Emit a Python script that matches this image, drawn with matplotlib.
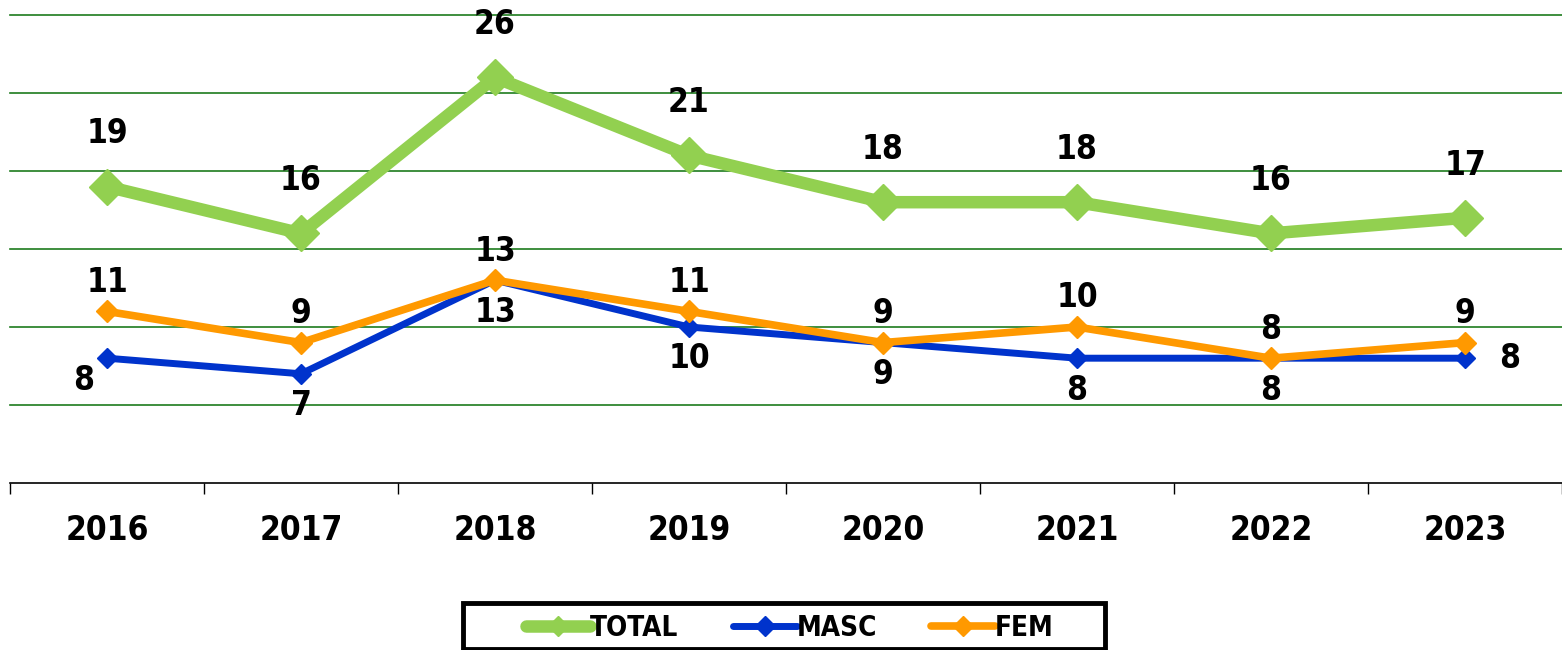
import numpy as np
import matplotlib.pyplot as plt
from matplotlib.patches import Rectangle

# data
years = ['2016', '2017', '2018', '2019', '2020', '2021', '2022', '2023']
total = [19, 16, 26, 21, 18, 18, 16, 17]
masc = [8, 7, 13, 10, 9, 8, 8, 8]
fem = [11, 9, 13, 11, 9, 10, 8, 9]

plt.rcParams['font.family'] = ['DejaVu Sans Condensed', 'DejaVu Sans']
plt.rcParams['font.weight'] = 'bold'
plt.rcParams['font.stretch'] = 'condensed'

W, H = 1562, 650
fig = plt.figure(figsize=(W / 100, H / 100), dpi=100)
ax = fig.add_axes([10/W, 167/H, 1552/W, 468/H])

x = np.arange(len(years))

ax.plot(x, total, color='#92d050', lw=9, marker='D', ms=18, mec='#92d050',
        solid_capstyle='round', label='TOTAL', zorder=3)
ax.plot(x, masc, color='#0033cc', lw=5, marker='D', ms=10, mec='#0033cc',
        solid_capstyle='round', label='MASC', zorder=4)
ax.plot(x, fem, color='#ff9900', lw=5.5, marker='D', ms=11, mec='#ff9900',
        solid_capstyle='round', label='FEM', zorder=5)

fs = 24
for i, v in enumerate(total):
    ax.annotate(str(v), (x[i], v), xytext=(0, 38), textcoords='offset points',
                ha='center', va='center', fontsize=fs, fontweight='bold')
for i, v in enumerate(fem):
    ax.annotate(str(v), (x[i], v), xytext=(0, 21), textcoords='offset points',
                ha='center', va='center', fontsize=fs, fontweight='bold')
for i, v in enumerate(masc):
    if i == 0:
        off = (-17, -16)
    elif i == len(masc) - 1:
        off = (32, 0)
    else:
        off = (0, -23)
    ax.annotate(str(v), (x[i], v), xytext=off, textcoords='offset points',
                ha='center', va='center', fontsize=fs, fontweight='bold')

ax.set_xlim(-0.5, 7.5)
ax.set_ylim(0, 30)
ax.set_yticks([5, 10, 15, 20, 25, 30])
ax.yaxis.grid(True, color='#1e7b1e', lw=1.2)
for g in ax.yaxis.get_gridlines():
    g.set_clip_on(False)
ax.set_axisbelow(True)
ax.tick_params(axis='y', left=False, labelleft=False)

ax.set_xticks(np.arange(-0.5, 8, 1), minor=False)
ax.set_xticklabels([])
ax.set_xticks(x, minor=True)
ax.set_xticklabels(years, minor=True, fontsize=fs, fontweight='bold')
ax.tick_params(axis='x', which='major', length=8, width=1, direction='out')
ax.tick_params(axis='x', which='minor', length=0, pad=22)

for s in ['top', 'right', 'left']:
    ax.spines[s].set_visible(False)
ax.spines['bottom'].set_linewidth(1.2)

# legend, with the wide Excel-style box drawn separately
leg = fig.legend(loc='center', bbox_to_anchor=(790/W, 1 - 628/H), ncol=3,
                 frameon=False, prop={'size': 20, 'weight': 'bold'},
                 handlelength=2.3, handletextpad=0.0, columnspacing=1.95)
for h in leg.legend_handles:
    h.set_markersize(10)
fig.patches.append(Rectangle((463/W, 1 - 649/H), (1105 - 463)/W, 46/H,
                             transform=fig.transFigure, fill=False,
                             edgecolor='black', lw=3.5))

fig.savefig('out.png', dpi=100)
